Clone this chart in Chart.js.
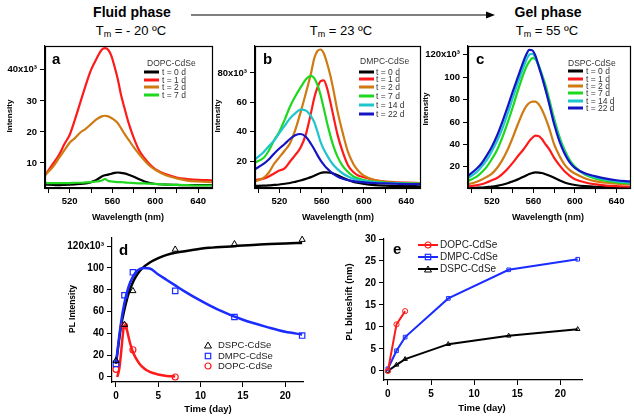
<!DOCTYPE html>
<html>
<head>
<meta charset="utf-8">
<script src="https://cdn.jsdelivr.net/npm/chart.js@4.4.1/dist/chart.umd.min.js"></script>
<style>
  body { margin: 0; background: #fff; }
  #fig { position: relative; width: 634px; height: 419px; overflow: hidden;
         font-family: "Liberation Sans", Arial, sans-serif; color: #000; }
  canvas { position: absolute; }
  .t { position: absolute; white-space: nowrap; line-height: 1; }
  .c { transform: translate(-50%, -50%); }
  .l { transform: translateY(-50%); }
  .rot { transform: translate(-50%, -50%) rotate(-90deg); }
  .head { font-size: 14px; font-weight: bold; }
  .tm { font-size: 13px; }
  .tm sub { font-size: 9px; vertical-align: -2px; }
  .letter { font-size: 15px; font-weight: bold; }
  .axt { font-size: 9px; font-weight: bold; }
  .ylab { font-size: 8px; font-weight: bold; }
  .lg { font-size: 8.5px; color: #333; }
  .sw { position: absolute; height: 3px; transform: translateY(-50%); }
  .leg2 { font-size: 9.5px; color: #222; }
</style>
</head>
<body>
<div id="fig">
  <!-- header -->
  <div class="t c head" style="left:132px;top:12px">Fluid phase</div>
  <div class="t c head" style="left:548px;top:12px">Gel phase</div>
  <svg style="position:absolute;left:0;top:0" width="634" height="30">
    <line x1="191" y1="15" x2="488" y2="15" stroke="#000" stroke-width="1.2"/>
    <polygon points="486,11.5 495,15 486,18.5" fill="#000"/>
  </svg>
  <div class="t c tm" style="left:131px;top:31px">T<sub>m</sub> = - 20 ºC</div>
  <div class="t c tm" style="left:341px;top:31px">T<sub>m</sub> = 23 ºC</div>
  <div class="t c tm" style="left:547px;top:31px">T<sub>m</sub> = 55 ºC</div>

  <canvas id="chartA" width="216" height="176" style="left:0;top:40px"></canvas>
  <canvas id="chartB" width="210" height="176" style="left:214px;top:40px"></canvas>
  <canvas id="chartC" width="210" height="176" style="left:424px;top:40px"></canvas>
  <canvas id="chartD" width="262" height="191" style="left:56px;top:228px"></canvas>
  <canvas id="chartE" width="294" height="191" style="left:340px;top:228px"></canvas>

  <!-- spectra labels -->
  <div class="t letter" style="left:52px;top:51px">a</div>
  <div class="t letter" style="left:263px;top:51px">b</div>
  <div class="t letter" style="left:476px;top:51px">c</div>
  <div class="t c rot ylab" style="left:10px;top:116px">Intensity</div>
  <div class="t c rot ylab" style="left:218px;top:116px">Intensity</div>
  <div class="t c rot ylab" style="left:426px;top:109px">Intensity</div>
  <div class="t c axt" style="left:128px;top:217px">Wavelength (nm)</div>
  <div class="t c axt" style="left:338px;top:217px">Wavelength (nm)</div>
  <div class="t c axt" style="left:548px;top:217px">Wavelength (nm)</div>
  <div id="legA"></div>
  <div id="legB"></div>
  <div id="legC"></div>

  <!-- d / e labels -->
  <div class="t letter" style="left:119px;top:242px">d</div>
  <div class="t letter" style="left:393px;top:241px">e</div>
  <div class="t c rot axt" style="left:72px;top:309px;font-size:8.5px">PL Intensity</div>
  <div class="t c rot axt" style="left:349px;top:302px;font-size:9.5px">PL blueshift (nm)</div>
  <div class="t c axt" style="left:208px;top:409px;font-size:9.5px">Time (day)</div>
  <div class="t c axt" style="left:482px;top:408px;font-size:9.5px">Time (day)</div>
  <div id="legD"></div>
  <div id="legE"></div>
</div>

<script>
// ---- spectra (panels a-c): intensity in units of 10^3 counts ----
const WAVELENGTH = [497, 505, 510, 515, 520, 525, 530, 535, 540, 545, 550, 553, 556, 559, 562,
                    565, 568, 571, 575, 580, 585, 590, 595, 600, 610, 620, 630, 640, 653];

// a: DOPC-CdSe
const dopc0d = [3, 2.9, 2.8, 2.9, 3, 3.1, 3.2, 3.4, 3.8, 4.5, 5.6, 6, 6.2, 6.5, 6.8,
                6.9, 6.8, 6.6, 6.2, 5.5, 4.7, 4, 3.5, 3.2, 3, 2.9, 2.8, 2.8, 2.8];
const dopc1d = [6, 10, 12.5, 16, 19, 24, 29.5, 35, 40, 43.5, 46.5, 47, 46.5, 44.5, 41,
                37, 32, 28, 23, 18, 14, 11.5, 9.5, 8, 6.3, 5.3, 4.8, 4.5, 4.4];
const dopc2d = [6, 9, 11.5, 14, 16.5, 18, 19.8, 21, 22.5, 24, 25, 25.2, 25, 24.5, 23.8,
                22.8, 21.2, 19.5, 17.5, 15, 12.8, 10.8, 9, 7.8, 6, 5, 4.3, 4, 3.8];
const dopc7d = [3.5, 3.5, 3.5, 3.5, 3.5, 3.6, 3.6, 3.7, 3.8, 4, 4.3, 4.8, 4.2, 4, 3.9,
                3.8, 3.8, 3.7, 3.6, 3.5, 3.4, 3.4, 3.3, 3.2, 3, 2.9, 2.8, 2.7, 2.7];

// b: DMPC-CdSe
const dmpc0d  = [3, 3.2, 3.4, 3.7, 4, 4.5, 5, 5.8, 6.7, 7.8, 9, 10, 11, 11.8, 12.2,
                 12.3, 12, 11.4, 10.3, 8.6, 7, 5.8, 5, 4.4, 3.6, 3.2, 3, 2.9, 2.8];
const dmpc1d  = [7, 8, 9.5, 11.5, 13.5, 15, 19.5, 24, 29, 38, 53, 63, 70, 74.5, 75,
                 70, 61, 51, 38, 26, 17, 12.5, 10, 9, 7, 6, 5.5, 5.2, 5];
const dmpc2d  = [6, 8.5, 12, 18, 22.5, 27, 32, 41, 53, 66, 80, 90, 95, 96, 93.5,
                 87, 79, 69, 54, 39, 26, 18, 13, 10, 7, 5.8, 5.2, 4.9, 4.8];
const dmpc7d  = [19, 22, 27, 34, 40, 48, 57, 64, 70, 75.5, 78, 76.5, 72, 65, 56,
                 46.5, 38, 30.5, 23, 16.5, 12.5, 9.5, 8, 7, 5.8, 5.3, 5, 4.8, 4.6];
const dmpc14d = [21, 26, 30, 34, 39, 44, 49, 52.5, 55, 54.5, 50.5, 46.5, 40, 33, 28,
                 24, 20.5, 17.5, 14.5, 11.5, 9.5, 8, 7, 6.5, 5.6, 5, 4.7, 4.5, 4.3];
const dmpc22d = [14.5, 18, 21, 25, 28.5, 31.6, 35, 37.5, 38.4, 36.5, 31.6, 28, 24, 20.5, 17.5,
                 15, 13, 11.3, 9.5, 8, 7, 6.3, 5.8, 5.5, 5, 4.7, 4.5, 4.3, 4.2];

// c: DSPC-CdSe
const dspc0d  = [1, 1.3, 1.5, 1.9, 2.3, 3, 4, 5.3, 7, 8.8, 11, 12.3, 13.6, 14.5, 15,
                 14.9, 14.5, 13.6, 12.2, 10.2, 8, 6, 4.7, 3.8, 2.7, 2.2, 2, 1.8, 1.7];
const dspc1d  = [2.5, 3.5, 4.5, 6, 8, 10, 13.5, 18, 23.5, 29.5, 35, 39, 43, 46, 47.8,
                 47.5, 45, 41, 36, 28, 21.5, 16, 12, 9, 6, 4.3, 3.3, 2.7, 2.3];
const dspc2d  = [4.5, 6.5, 8.5, 11, 14, 19, 26, 35, 46, 58, 69, 74, 77, 78.3, 78.3,
                 76, 71.5, 65, 55, 40, 30, 22, 17, 14, 9.5, 7, 5.8, 5, 4.5];
const dspc7d  = [7.5, 11, 15, 20, 27, 35, 46, 59, 73, 88, 102, 109, 114, 117, 116,
                 111, 103, 95, 81, 63, 47, 35, 26, 20, 13, 9.5, 7.5, 6.2, 5.2];
const dspc14d = [10, 15, 20, 26, 34, 43, 54, 67, 81, 95, 108, 115, 120, 121, 117,
                 110, 102, 92, 78, 60, 45, 33, 25, 19, 13.5, 10.5, 8.5, 7, 6];
const dspc22d = [12, 18, 23, 30, 38, 48, 60, 73, 87, 100, 113, 120, 124.5, 124, 119,
                 110, 101, 91, 77, 58, 43, 32, 24, 19, 14, 11.5, 9.5, 8, 7];

const SPEC_LABELS = ['t = 0 d', 't = 1 d', 't = 2 d', 't = 7 d', 't = 14 d', 't = 22 d'];
const WL_TICKS = [500, 520, 540, 560, 580, 600, 620, 640];
const WL_LABELLED = [520, 560, 600, 640];

// ---- d: PL intensity vs time (10^3) ----
const timeDays = [0, 1, 2, 7, 14, 22];
const dopcDays = [0, 1, 2, 7];
const dspcIntensity = [15, 48, 79, 117, 122, 126];
const dmpcIntensity = [12, 75, 96, 79, 55, 38];
const dopcIntensity = [7, 47, 25, 0];
// fitted curves
const dspcFitDays = [0, 0.3, 0.6, 1, 1.5, 2, 2.5, 3, 4, 5, 6, 7, 9, 11, 14, 17, 20, 22];
const dspcFit     = [12, 30, 47, 62, 77, 87, 94, 99, 105, 109, 112, 114, 116.5, 118.5, 120, 121.5, 122.5, 123];
const dmpcFitDays = [0, 0.3, 0.6, 1, 1.5, 2, 2.5, 3.3, 4, 5, 6, 7, 8, 10, 12, 15, 18, 20, 22];
const dmpcFit     = [12, 32, 50, 68, 83, 92, 97.5, 100, 99.5, 94, 89, 84, 79, 70, 62, 52.5, 45.5, 41.5, 39];
const dopcFitDays = [0.15, 0.4, 0.6, 0.8, 0.95, 1.1, 1.3, 1.6, 1.9, 2.3, 2.8, 3.3, 4, 5, 6, 7];
const dopcFit     = [0, 8, 22, 38, 47, 47.5, 43, 33, 25, 18, 12, 8, 4.6, 2.3, 1, 0.4];

// ---- e: PL blueshift (nm) ----
const dopcShift = [0, 10.6, 13.6];
const dmpcShift = [0.5, 4.6, 7.7, 16.5, 23, 25.4];
const dspcShift = [0, 1.4, 2.7, 6.1, 8, 9.5];

const COLOURS = {
  black:  '#000000',
  red:    '#ff1a1a',
  orange: '#cf7a12',
  green:  '#1ed81e',
  cyan:   '#1cc6cc',
  blue:   '#1414c4',
  blue2:  '#1a2cff',
};
const SPEC_COLOURS = [COLOURS.black, COLOURS.red, COLOURS.orange, COLOURS.green, COLOURS.cyan, COLOURS.blue];
const FONT = 'Liberation Sans';

// box around the plot area (spectra panels)
const framePlugin = {
  id: 'frame',
  afterDatasetsDraw(chart) {
    const { left, top, right, bottom } = chart.chartArea;
    const ctx = chart.ctx;
    ctx.save();
    ctx.strokeStyle = '#000';
    ctx.lineWidth = 1.2;
    ctx.strokeRect(Math.round(left) + 0.5, Math.round(top) + 0.5,
                   Math.round(right - left), Math.round(bottom - top));
    ctx.restore();
  },
};

function xAxis(min, max, ticks, labelled, height, size) {
  return {
    type: 'linear', min, max,
    afterBuildTicks: s => { s.ticks = ticks.map(value => ({ value })); },
    afterFit: s => { s.height = height; s.paddingLeft = 0; s.paddingRight = 0; },
    ticks: {
      autoSkip: false, maxRotation: 0, padding: 3, color: '#000',
      font: { family: FONT, size, weight: 'bold' },
      callback: v => labelled.includes(v) ? String(v) : '',
    },
    grid: { drawOnChartArea: false, tickLength: 5, color: '#000' },
    border: { color: '#000', width: 1.2 },
  };
}

function yAxis(min, max, ticks, width, size, power) {
  const top = ticks[ticks.length - 1];
  return {
    type: 'linear', min, max,
    afterBuildTicks: s => { s.ticks = ticks.map(value => ({ value })); },
    afterFit: s => { s.width = width; s.paddingTop = 0; s.paddingBottom = 0; },
    ticks: {
      autoSkip: false, padding: 3, color: '#000',
      font: { family: FONT, size, weight: 'bold' },
      callback: v => (power && v === top) ? `${v}x10³` : String(v),
    },
    grid: { drawOnChartArea: false, tickLength: 5, color: '#000' },
    border: { color: '#000', width: 1.2 },
  };
}

function baseOptions(padding, scales) {
  return {
    responsive: false, animation: false, devicePixelRatio: 1,
    layout: { padding },
    plugins: { legend: { display: false }, tooltip: { enabled: false } },
    scales,
  };
}

function spectraChart(id, series, yMin, yMax, yTicks, yWidth) {
  const datasets = series.map((values, i) => ({
    data: WAVELENGTH.map((w, k) => ({ x: w, y: values[k] })),
    borderColor: SPEC_COLOURS[i],
    borderWidth: 2.2,
    pointRadius: 0,
    cubicInterpolationMode: 'monotone',
    fill: false,
    order: -i,
  }));
  new Chart(document.getElementById(id), {
    type: 'line',
    data: { datasets },
    options: baseOptions({ top: 6, right: 4, left: 0, bottom: 0 }, {
      x: xAxis(497, 653, WL_TICKS, WL_LABELLED, 28, 9.5),
      y: yAxis(yMin, yMax, yTicks, yWidth, 9.5, true),
    }),
    plugins: [framePlugin],
  });
}

spectraChart('chartA', [dopc0d, dopc1d, dopc2d, dopc7d], 1.9, 47.7, [10, 20, 30, 40], 45);
spectraChart('chartB', [dmpc0d, dmpc1d, dmpc2d, dmpc7d, dmpc14d, dmpc22d], 1.6, 98.4, [20, 40, 60, 80], 41);
spectraChart('chartC', [dspc0d, dspc1d, dspc2d, dspc7d, dspc14d, dspc22d], 1.1, 127.9, [20, 40, 60, 80, 100, 120], 44);

// spectra legends
function spectraLegend(elId, title, titleX, titleY, lineX, textX, rows, n) {
  const el = document.getElementById(elId);
  let html = `<div class="t l lg" style="left:${titleX}px;top:${titleY}px">${title}</div>`;
  for (let i = 0; i < n; i++) {
    html += `<div class="sw" style="left:${lineX}px;top:${rows[i]}px;width:15px;background:${SPEC_COLOURS[i]}"></div>`;
    html += `<div class="t l lg" style="left:${textX}px;top:${rows[i]}px">${SPEC_LABELS[i]}</div>`;
  }
  el.innerHTML = html;
}
spectraLegend('legA', 'DOPC-CdSe', 147, 63, 144, 162, [72, 80, 87, 95], 4);
spectraLegend('legB', 'DMPC-CdSe', 360, 61, 359, 376, [72, 79, 87, 96, 105, 114], 6);
spectraLegend('legC', 'DSPC-CdSe', 568, 63, 568, 586, [71, 79, 86, 93, 101, 108], 6);

// d: PL intensity
const pts = (xs, ys) => xs.map((x, i) => ({ x, y: ys[i] }));
new Chart(document.getElementById('chartD'), {
  type: 'line',
  data: {
    datasets: [
      { data: pts(dopcFitDays, dopcFit), borderColor: COLOURS.red, borderWidth: 2.5, pointRadius: 0, cubicInterpolationMode: 'monotone', order: 1 },
      { data: pts(dmpcFitDays, dmpcFit), borderColor: COLOURS.blue2, borderWidth: 2.5, pointRadius: 0, cubicInterpolationMode: 'monotone', order: 2 },
      { data: pts(dspcFitDays, dspcFit), borderColor: COLOURS.black, borderWidth: 2.5, pointRadius: 0, cubicInterpolationMode: 'monotone', order: 3 },
      { data: pts(timeDays, dspcIntensity), showLine: false, pointStyle: 'triangle', pointRadius: 3.5, pointBorderWidth: 1, pointBorderColor: '#000', pointBackgroundColor: 'transparent', order: 0 },
      { data: pts(timeDays, dmpcIntensity), showLine: false, pointStyle: 'rect', pointRadius: 3.8, pointBorderWidth: 1.2, pointBorderColor: COLOURS.blue2, pointBackgroundColor: 'transparent', order: 0 },
      { data: pts(dopcDays, dopcIntensity), showLine: false, pointStyle: 'circle', pointRadius: 3, pointBorderWidth: 1.2, pointBorderColor: COLOURS.red, pointBackgroundColor: 'transparent', order: 0 },
    ].map(ds => ({ ...ds, clip: false, fill: false })),
  },
  options: baseOptions({ top: 10, right: 15, left: 0, bottom: 0 }, {
    x: xAxis(-0.47, 22.1, [0, 5, 10, 15, 20], [0, 5, 10, 15, 20], 37, 10),
    y: yAxis(-4.6, 127.5, [0, 20, 40, 60, 80, 100, 120], 56, 10, true),
  }),
});

// e: PL blueshift
const lineSet = (xs, ys, colour, style) => ({
  data: pts(xs, ys), borderColor: colour, borderWidth: 2, pointStyle: style, pointRadius: 2.6,
  pointBorderColor: colour, pointBorderWidth: 1, pointBackgroundColor: 'transparent', clip: false, tension: 0,
});
new Chart(document.getElementById('chartE'), {
  type: 'line',
  data: {
    datasets: [
      lineSet([0, 1, 2], dopcShift, COLOURS.red, 'circle'),
      lineSet(timeDays, dmpcShift, COLOURS.blue2, 'rect'),
      lineSet(timeDays, dspcShift, COLOURS.black, 'triangle'),
    ],
  },
  options: baseOptions({ top: 11, right: 52, left: 0, bottom: 0 }, {
    x: xAxis(-0.45, 22.5, [0, 5, 10, 15, 20], [0, 5, 10, 15, 20], 39, 10),
    y: yAxis(-2.05, 30, [0, 5, 10, 15, 20, 25, 30], 44, 10, false),
  }),
});

// d / e legends
function markerSvg(style, colour, withLine) {
  let shape;
  if (style === 'triangle') shape = `<polygon points="10,3 13.5,9 6.5,9" fill="none" stroke="${colour}" stroke-width="1"/>`;
  else if (style === 'rect') shape = `<rect x="7.3" y="3.3" width="5.4" height="5.4" fill="none" stroke="${colour}" stroke-width="1.2"/>`;
  else shape = `<circle cx="10" cy="6" r="3" fill="none" stroke="${colour}" stroke-width="1.2"/>`;
  const line = withLine ? `<line x1="0" y1="6" x2="20" y2="6" stroke="${colour}" stroke-width="2"/>` : '';
  return `<svg width="20" height="12" style="display:block">${line}${shape}</svg>`;
}
const legD = [
  { label: 'DSPC-CdSe', style: 'triangle', colour: COLOURS.black, y: 345 },
  { label: 'DMPC-CdSe', style: 'rect', colour: COLOURS.blue2, y: 356 },
  { label: 'DOPC-CdSe', style: 'circle', colour: COLOURS.red, y: 366 },
];
document.getElementById('legD').innerHTML = legD.map(it => `
  <div class="t l" style="left:198px;top:${it.y}px">${markerSvg(it.style, it.colour, false)}</div>
  <div class="t l leg2" style="left:218px;top:${it.y}px">${it.label}</div>`).join('');
const legE = [
  { label: 'DOPC-CdSe', style: 'circle', colour: COLOURS.red, y: 245 },
  { label: 'DMPC-CdSe', style: 'rect', colour: COLOURS.blue2, y: 257 },
  { label: 'DSPC-CdSe', style: 'triangle', colour: COLOURS.black, y: 269 },
];
document.getElementById('legE').innerHTML = legE.map(it => `
  <div class="t l" style="left:418px;top:${it.y}px">${markerSvg(it.style, it.colour, true)}</div>
  <div class="t l leg2" style="left:440px;top:${it.y}px;font-size:10px">${it.label}</div>`).join('');
</script>
</body>
</html>
